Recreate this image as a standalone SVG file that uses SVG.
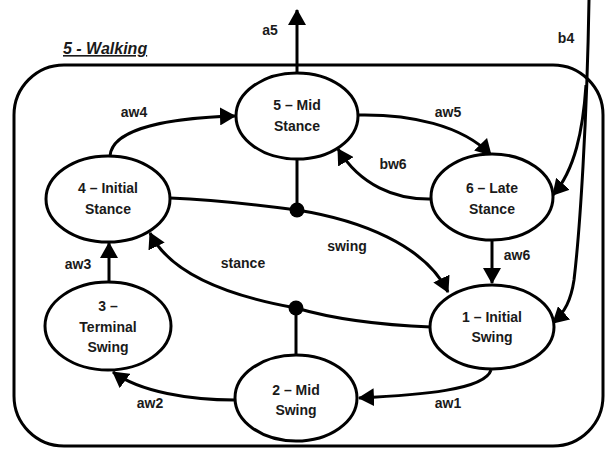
<svg xmlns="http://www.w3.org/2000/svg" width="612" height="453" viewBox="0 0 612 453">
<defs>
<style>
.n{fill:#fff;stroke:#000;stroke-width:3}
.t{font-family:"Liberation Sans",Arial,sans-serif;font-weight:bold;font-size:14px;fill:#1a1a1a;text-anchor:middle}
.e{fill:none;stroke:#000;stroke-width:3}
.a{marker-end:url(#ah)}
</style>
<marker id="ah" viewBox="0 0 16 18" refX="15" refY="9" markerWidth="16" markerHeight="18" markerUnits="userSpaceOnUse" orient="auto">
<path d="M0,0 L16,9 L0,18 z" fill="#000"/>
</marker>
</defs>
<rect width="612" height="453" fill="#fff"/>
<g id="frame">
<rect x="14" y="65" width="589" height="381" rx="50" ry="50" fill="none" stroke="#000" stroke-width="3"/>
<text x="63" y="54" style="font-family:'Liberation Sans',Arial,sans-serif;font-weight:bold;font-style:italic;font-size:16px;fill:#1a1a1a;text-decoration:underline">5 - Walking</text>
</g>
<g id="connectors">
<path class="e a" d="M297,72 L297,10"/>
<path class="e a" d="M589,0 C587,120 580,230 574,280 C571,300 565,312 553,323"/>
<path class="e a" d="M586,85 C583,130 575,170 553,195"/>
<path class="e a" d="M110,156 C112,128 170,118 235,116"/>
<path class="e a" d="M358,115 C410,114 462,125 491,155"/>
<path class="e a" d="M432,199 C395,200 360,185 338,149"/>
<path class="e" d="M170,198 C220,200 260,205 297,210"/>
<path class="e" d="M297,160 L297,210"/>
<path class="e a" d="M297,210 C360,220 425,245 448,292"/>
<path class="e" d="M431,327 C380,325 330,318 296,308"/>
<path class="e" d="M296,308 L296,355"/>
<path class="e a" d="M296,308 C240,298 172,278 150,233"/>
<path class="e a" d="M492,240 L492,283"/>
<path class="e a" d="M491,370 C485,390 420,395 359,398"/>
<path class="e a" d="M235,400 C190,400 140,392 113,372"/>
<path class="e a" d="M109,282 L109,243"/>
<circle cx="297" cy="210" r="7.5" fill="#000"/>
<circle cx="296" cy="308" r="7.5" fill="#000"/>
<text class="t" x="270" y="35">a5</text>
<text class="t" x="566" y="43">b4</text>
<text class="t" x="134" y="117">aw4</text>
<text class="t" x="448" y="117">aw5</text>
<text class="t" x="393" y="169">bw6</text>
<text class="t" x="347" y="251">swing</text>
<text class="t" x="243" y="268">stance</text>
<text class="t" x="78" y="269">aw3</text>
<text class="t" x="517" y="260">aw6</text>
<text class="t" x="150" y="408">aw2</text>
<text class="t" x="448" y="408">aw1</text>
</g>
<g id="n5">
<ellipse class="n" cx="297" cy="116" rx="61" ry="43"/>
<text class="t" x="297" y="110">5 – Mid</text>
<text class="t" x="297" y="131">Stance</text>
</g>
<g id="n4">
<ellipse class="n" cx="108" cy="199" rx="62" ry="43"/>
<text class="t" x="108" y="193">4 – Initial</text>
<text class="t" x="108" y="214">Stance</text>
</g>
<g id="n6">
<ellipse class="n" cx="492" cy="197" rx="61" ry="43"/>
<text class="t" x="492" y="193">6 – Late</text>
<text class="t" x="492" y="214">Stance</text>
</g>
<g id="n1">
<ellipse class="n" cx="492" cy="327" rx="62" ry="42"/>
<text class="t" x="492" y="322">1 – Initial</text>
<text class="t" x="492" y="342">Swing</text>
</g>
<g id="n2">
<ellipse class="n" cx="296" cy="398" rx="61" ry="43"/>
<text class="t" x="296" y="395">2 – Mid</text>
<text class="t" x="296" y="415">Swing</text>
</g>
<g id="n3">
<ellipse class="n" cx="108" cy="326" rx="63" ry="44"/>
<text class="t" x="108" y="311">3 –</text>
<text class="t" x="108" y="332">Terminal</text>
<text class="t" x="108" y="352">Swing</text>
</g>
</svg>
